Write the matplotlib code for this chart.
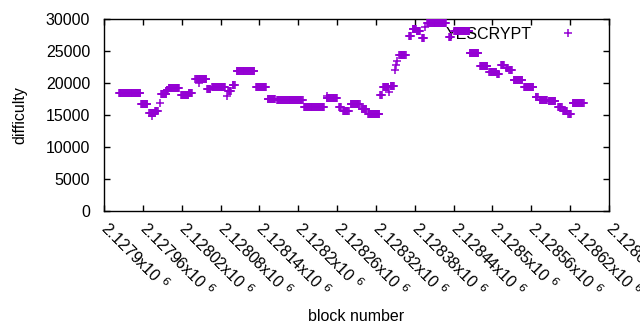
import numpy as np
import matplotlib
matplotlib.use("Agg")
import matplotlib.pyplot as plt

# ===========================
# data: runs of constant difficulty (first block, last block, difficulty)
# ===========================
run_start = [2127923, 2127957, 2127970, 2127974, 2127979, 2127986, 2127988, 2127997, 2128000,
             2128019, 2128031, 2128041, 2128047, 2128059, 2128067, 2128090, 2128092, 2128099,
             2128105, 2128135, 2128153, 2128167, 2128209, 2128244, 2128244, 2128263, 2128269,
             2128281, 2128298, 2128308, 2128327, 2128331, 2128340, 2128343, 2128349, 2128351,
             2128352, 2128356, 2128371, 2128377, 2128383, 2128391, 2128396, 2128399, 2128433,
             2128441, 2128465, 2128481, 2128495, 2128507, 2128513, 2128521, 2128526, 2128533,
             2128549, 2128567, 2128573, 2128587, 2128601, 2128609, 2128617, 2128624]
run_end = [2127956, 2127967, 2127978, 2127974, 2127983, 2127986, 2127996, 2127999, 2128016,
           2128030, 2128036, 2128058, 2128047, 2128064, 2128087, 2128090, 2128096, 2128102,
           2128132, 2128150, 2128164, 2128207, 2128240, 2128260, 2128244, 2128266, 2128278,
           2128295, 2128305, 2128325, 2128329, 2128339, 2128340, 2128348, 2128349, 2128351,
           2128352, 2128366, 2128374, 2128382, 2128388, 2128394, 2128396, 2128428, 2128436,
           2128464, 2128478, 2128492, 2128506, 2128510, 2128518, 2128524, 2128530, 2128546,
           2128563, 2128570, 2128584, 2128597, 2128607, 2128615, 2128621, 2128641]
run_diff = [18400, 16700, 15300, 14800, 15700, 16800, 18300, 18900, 19150,
            18150, 18450, 20700, 20000, 19000, 19300, 18000, 18700, 19700,
            21800, 19300, 17500, 17300, 16200, 17600, 17900, 16200, 15600,
            16700, 15900, 15150, 18100, 19450, 18600, 19500, 22100, 22800,
            23400, 24400, 27300, 28500, 28100, 27100, 28700, 29450, 27200,
            28100, 24700, 22650, 21700, 21400, 22800, 22400, 22000, 20450,
            19300, 17800, 17350, 17200, 16250, 15650, 15150, 16800]

x_ticks = [2127900, 2127960, 2128020, 2128080, 2128140, 2128200, 2128260,
           2128320, 2128380, 2128440, 2128500, 2128560, 2128620, 2128680]
x_labels = ["2.1279", "2.12796", "2.12802", "2.12808", "2.12814", "2.1282", "2.12826",
            "2.12832", "2.12838", "2.12844", "2.1285", "2.12856", "2.12862", "2.12868"]
y_ticks = [0, 5000, 10000, 15000, 20000, 25000, 30000]

# one point per block
blocks = []
diffs = []
for s, e, d in zip(run_start, run_end, run_diff):
    b = np.arange(s, e + 1)
    blocks.extend(b)
    diffs.extend([d] * len(b))

plt.rcParams['font.family'] = ['Liberation Sans', 'DejaVu Sans']
plt.rcParams['font.size'] = 11.5

fig = plt.figure(figsize=(6.4, 3.3), dpi=100)
ax = fig.add_axes([104 / 640, 1 - 211 / 330, 505 / 640, 192 / 330])

ax.plot(blocks, diffs, linestyle='none', marker='+', markersize=5.5,
        markeredgewidth=1.1, color='#9400D3', label='YESCRYPT', zorder=3)

ax.set_xlim(2127900, 2128680)
ax.set_ylim(0, 30000)
ax.set_xticks(x_ticks)
ax.set_xticklabels([l + r'x10 $^{6}$' for l in x_labels], rotation=-45,
                   ha='left', va='center', rotation_mode='anchor')
ax.set_yticks(y_ticks)
ax.tick_params(direction='in', length=4, width=1, top=True, right=True,
               labelcolor='black')
ax.tick_params(axis='y', pad=10)
ax.tick_params(axis='x', pad=10)
for sp in ax.spines.values():
    sp.set_linewidth(1)

ax.set_xlabel('block number', labelpad=7)
ax.set_ylabel('difficulty', labelpad=13)

leg = ax.legend(loc='upper right', bbox_to_anchor=(0.95, 0.96), frameon=False,
                markerfirst=False, handlelength=2, handletextpad=1.25,
                borderaxespad=0, borderpad=0)
leg.set_zorder(1)

fig.savefig('out.png', dpi=100)
